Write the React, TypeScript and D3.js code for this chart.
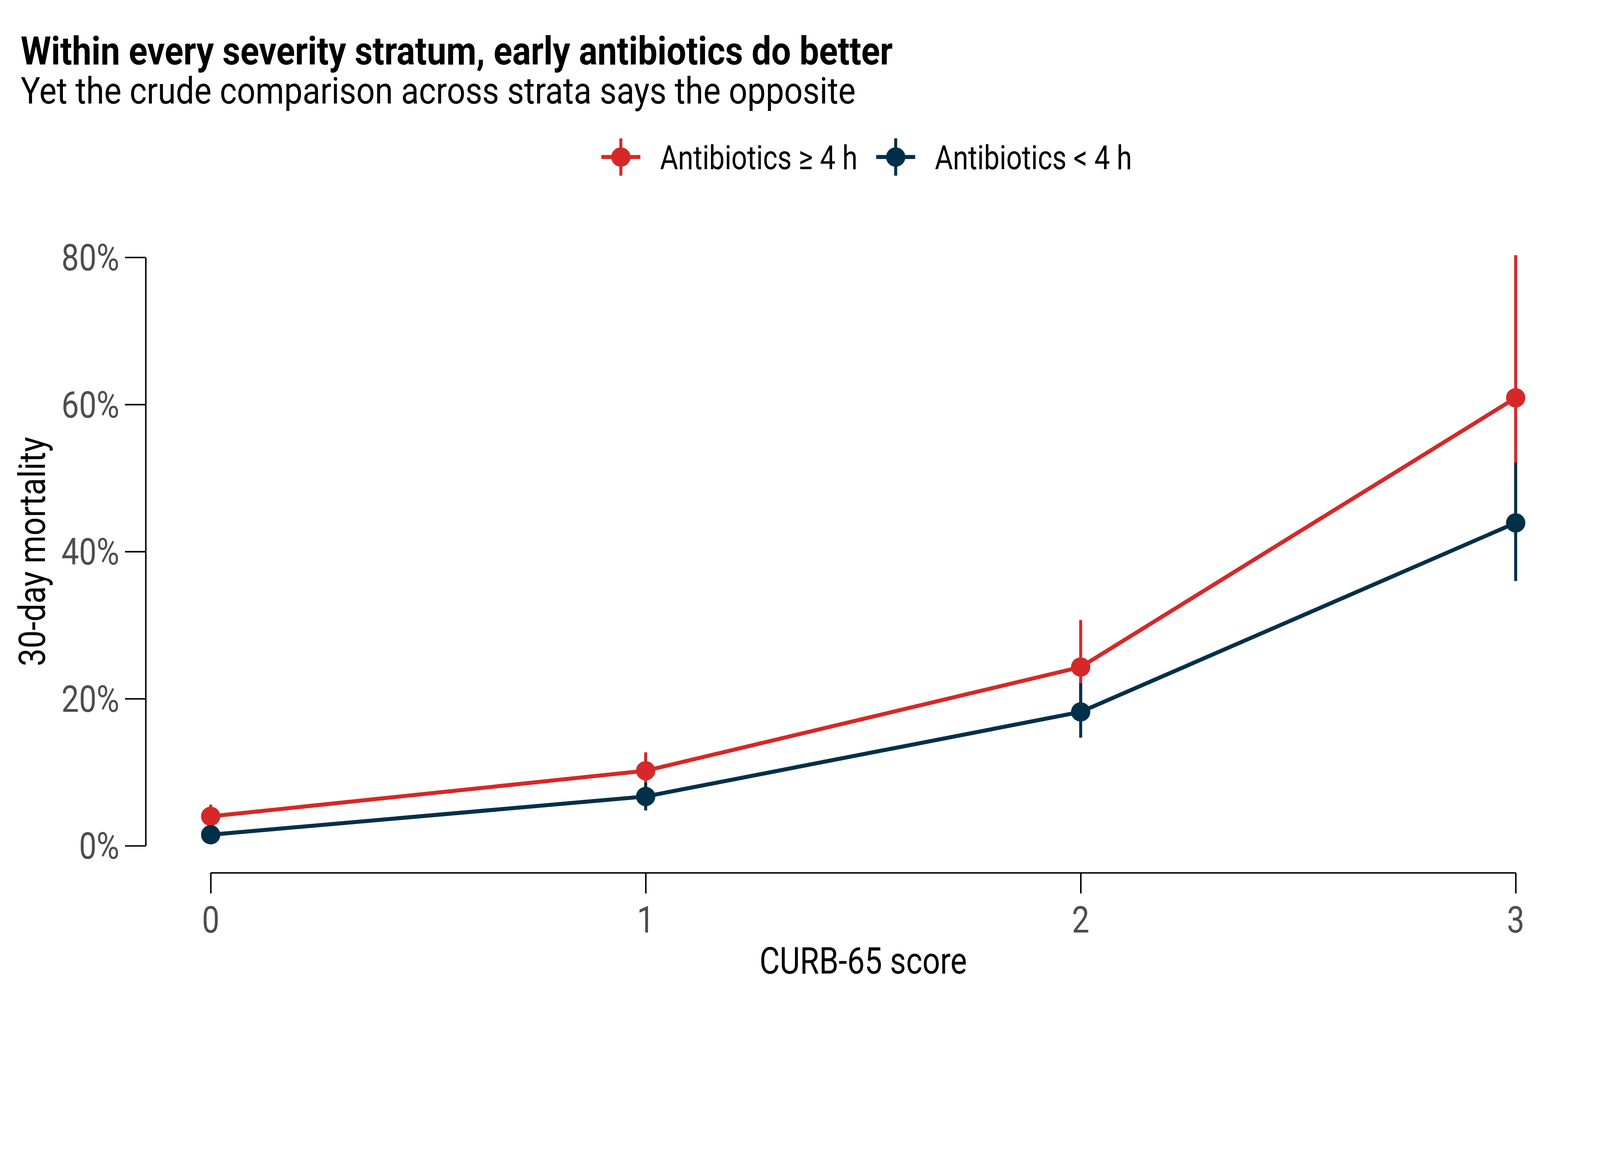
import { useEffect, useRef } from "react";
import * as d3 from "d3";

// CURB-65 strata and 30-day mortality (%) with 95% CI
const scores = [0, 1, 2, 3];
const lateMortality = [4.0, 10.2, 24.3, 60.9];
const lateLower = [2.6, 7.6, 18.0, 42.0];
const lateUpper = [5.6, 12.7, 30.7, 80.3];
const earlyMortality = [1.5, 6.7, 18.2, 43.9];
const earlyLower = [0.8, 4.8, 14.7, 36.0];
const earlyUpper = [2.3, 8.6, 22.1, 52.1];
const yTicks = [0, 20, 40, 60, 80];
const seriesNames = ["Antibiotics \u2265 4 h", "Antibiotics < 4 h"];
const seriesColors = ["#d62828", "#003049"];

const W = 4800;
const H = 3000;
const FONT = "Roboto, 'Noto Sans', sans-serif";
const SX = 0.85; // squeeze Roboto to look like the condensed face

export default function App() {
  const svgRef = useRef<SVGSVGElement>(null);

  useEffect(() => {
    if (!svgRef.current) return;
    document.body.style.margin = "0";

    const svg = d3.select(svgRef.current);
    svg.selectAll("*").remove();

    const margin = { top: 772, left: 437, right: 253, bottom: 382 };
    const x = d3
      .scaleLinear()
      .domain([0, 3])
      .range([632, W - margin.right]);
    const y = d3
      .scaleLinear()
      .domain([0, 80])
      .range([2537, margin.top]);
    const xAxisY = 2618;

    // condensed-looking text helper
    const label = (
      parent: d3.Selection<any, unknown, null, undefined>,
      tx: number,
      ty: number,
      str: string,
      opts: {
        size: number;
        anchor?: string;
        weight?: string;
        fill?: string;
        rotate?: number;
        sx?: number;
      }
    ) =>
      parent
        .append("text")
        .attr(
          "transform",
          `translate(${tx},${ty})${opts.rotate ? ` rotate(${opts.rotate})` : ""} scale(${
            opts.sx ?? SX
          },1)`
        )
        .attr("text-anchor", opts.anchor ?? "start")
        .style("font-family", FONT)
        .style("font-size", `${opts.size}px`)
        .style("font-weight", opts.weight ?? "400")
        .style("fill", opts.fill ?? "#000")
        .text(str);

    // Titles
    label(svg, 62, 193, "Within every severity stratum, early antibiotics do better", {
      size: 118,
      weight: "700",
      sx: 0.883,
    });
    label(svg, 62, 311, "Yet the crude comparison across strata says the opposite", {
      size: 110,
      sx: 0.892,
    });

    // Y axis
    const yAxis = svg
      .append("g")
      .attr("transform", `translate(${margin.left},0)`)
      .call(
        d3
          .axisLeft(y)
          .tickValues(yTicks)
          .tickSize(62)
          .tickSizeOuter(0)
          .tickFormat(() => "")
      );
    yAxis.selectAll("path, line").style("stroke", "#000").style("stroke-width", 4.5);
    yAxis.selectAll("text").remove();
    yTicks.forEach((t) =>
      label(svg, margin.left - 62 - 17, y(t) + 39, `${t}%`, {
        size: 110,
        anchor: "end",
        fill: "#4d4d4d",
      })
    );

    // X axis
    const xAxis = svg
      .append("g")
      .attr("transform", `translate(0,${xAxisY})`)
      .call(
        d3
          .axisBottom(x)
          .tickValues(scores)
          .tickSize(62)
          .tickSizeOuter(0)
          .tickFormat(() => "")
      );
    xAxis.selectAll("path, line").style("stroke", "#000").style("stroke-width", 4.5);
    xAxis.selectAll("text").remove();
    scores.forEach((s) =>
      label(svg, x(s), 2797, String(s), { size: 110, anchor: "middle", fill: "#4d4d4d" })
    );

    // Axis titles
    const [x0, x1] = x.range();
    label(svg, (x0 + x1) / 2, 2920, "CURB-65 score", { size: 110, anchor: "middle" });
    label(svg, 135, (y(0) + y(80)) / 2, "30-day mortality", {
      size: 110,
      anchor: "middle",
      rotate: -90,
      sx: 0.87,
    });

    // Series: error bar, connecting line, point
    const series = [
      { mid: lateMortality, lo: lateLower, hi: lateUpper },
      { mid: earlyMortality, lo: earlyLower, hi: earlyUpper },
    ];
    const line = d3
      .line<number>()
      .x((_, i) => x(scores[i]))
      .y((d) => y(d));

    series.forEach((s, k) => {
      const g = svg.append("g");
      g.selectAll("line")
        .data(scores)
        .join("line")
        .attr("x1", (d) => x(d))
        .attr("x2", (d) => x(d))
        .attr("y1", (_, i) => y(s.lo[i]))
        .attr("y2", (_, i) => y(s.hi[i]))
        .style("stroke", seriesColors[k])
        .style("stroke-width", 9);
      g.append("path")
        .datum(s.mid)
        .attr("d", line)
        .style("fill", "none")
        .style("stroke", seriesColors[k])
        .style("stroke-width", 12);
      g.selectAll("circle")
        .data(s.mid)
        .join("circle")
        .attr("cx", (_, i) => x(scores[i]))
        .attr("cy", (d) => y(d))
        .attr("r", 29)
        .style("fill", seriesColors[k]);
    });

    // Legend, centred over the panel
    const legend = svg.append("g");
    const legendY = 471;
    const gap = 56;
    let cursor = 0;
    seriesNames.forEach((name, k) => {
      const item = legend.append("g").attr("transform", `translate(${cursor},0)`);
      item
        .append("line")
        .attr("x1", 0)
        .attr("x2", 117)
        .attr("y1", legendY)
        .attr("y2", legendY)
        .style("stroke", seriesColors[k])
        .style("stroke-width", 12);
      item
        .append("line")
        .attr("x1", 58.5)
        .attr("x2", 58.5)
        .attr("y1", legendY - 56)
        .attr("y2", legendY + 56)
        .style("stroke", seriesColors[k])
        .style("stroke-width", 9);
      item
        .append("circle")
        .attr("cx", 58.5)
        .attr("cy", legendY)
        .attr("r", 29)
        .style("fill", seriesColors[k]);
      const t = label(item, 176, legendY + 36, name, { size: 100, sx: 0.83 });
      const w = (t.node() as SVGTextElement).getComputedTextLength() * 0.83;
      cursor += 176 + w + gap;
    });
    const total = cursor - gap;
    legend.attr("transform", `translate(${2600 - total / 2},0)`);
  }, []);

  return (
    <svg
      ref={svgRef}
      viewBox={`0 0 ${W} ${H}`}
      preserveAspectRatio="xMinYMin meet"
      style={{ display: "block", width: "100vw", height: "100vh", background: "#fff" }}
    />
  );
}
